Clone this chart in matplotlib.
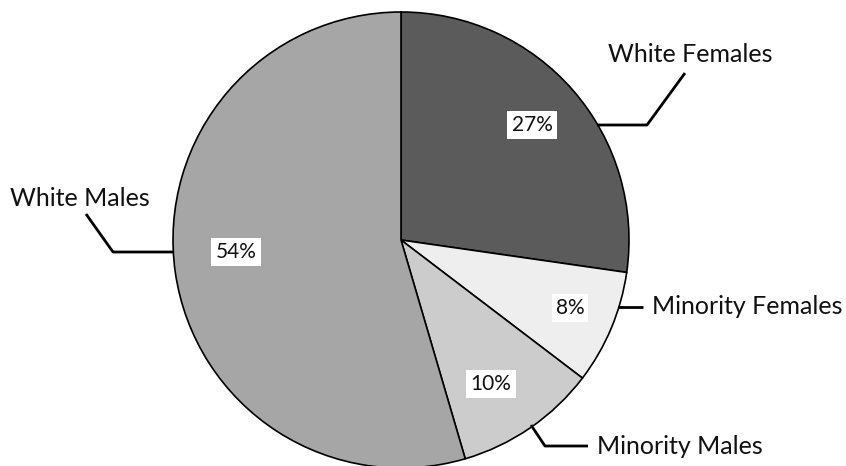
import matplotlib
matplotlib.use("Agg")
import matplotlib.pyplot as plt
import numpy as np

categories = ["White Females", "Minority Females", "Minority Males", "White Males"]
shares = [27, 8, 10, 54]
colors = ["#5b5b5b", "#eeeeee", "#cccccc", "#a6a6a6"]

W, H = 846, 466
plt.rcParams["font.family"] = ["Lato", "DejaVu Sans"]

fig = plt.figure(figsize=(W / 100, H / 100), dpi=100)
ax = fig.add_axes([0, 0, 1, 1])

cx, cy, r = 401, 240, 228

# y axis runs downward, so counterclock=True sweeps clockwise on screen
wedges, texts, autotexts = ax.pie(
    shares, colors=colors, startangle=-90, counterclock=True,
    center=(cx, cy), radius=r, autopct="%d%%", pctdistance=0.76,
    wedgeprops=dict(edgecolor="black", linewidth=1.2),
    textprops=dict(fontsize=15, color="#111111"), frame=True,
)
ax.set_xlim(0, W)
ax.set_ylim(H, 0)
ax.set_aspect("equal")
ax.axis("off")

# percentage label placement inside each slice
pct_pos = [(532, 125), (570, 308), (491, 384), (236, 252)]
for t, (px, py) in zip(autotexts, pct_pos):
    t.set_position((px, py))
    t.set_bbox(dict(facecolor="white", edgecolor="none", pad=3))

# leader lines and category labels
leaders = [
    ([597, 647, 685], [125, 125, 73], (690, 55), "center"),
    ([618, 643], [307, 307], (652, 307), "left"),
    ([531, 545, 588], [425, 446, 446], (597, 446), "left"),
    ([174, 113, 86], [252, 252, 214], (80, 198), "center"),
]
for (xs, ys, (tx, ty), ha), name in zip(leaders, categories):
    ax.plot(xs, ys, color="black", lw=2, solid_capstyle="butt")
    ax.text(tx, ty, name, ha=ha, va="center", fontsize=18, color="#111111")

fig.savefig("out.png", dpi=100)
